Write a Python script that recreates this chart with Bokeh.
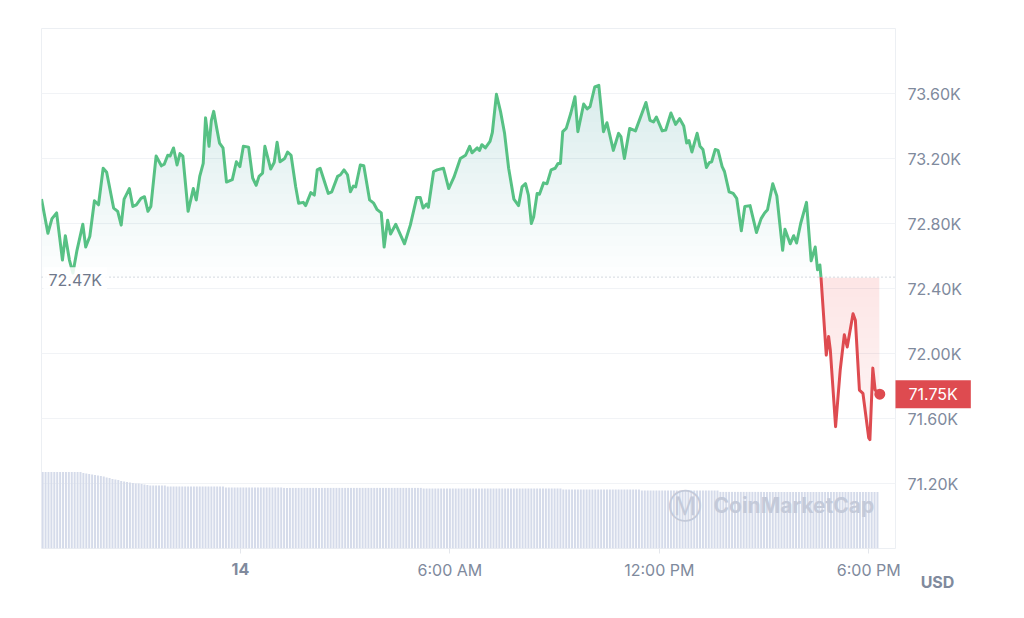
import numpy as np
import pandas as pd
from bokeh.plotting import figure
from bokeh.models import Range1d, FixedTicker, Span, Label
from bokeh.embed import file_html
from bokeh.resources import INLINE

# ---------------- data ----------------
DAY = "2024-03-14"
# minutes relative to 00:00 of DAY
minutes = [
    -342, -331, -324, -316, -306, -301, -294, -288, -281, -271, -266, -259,
    -251, -244, -236, -230, -218, -211, -205, -200, -191, -185, -179, -171,
    -165, -159, -154, -145, -136, -131, -125, -121, -115, -109, -104, -99,
    -90, -81, -76, -70, -64, -60, -54, -50, -46, -41, -36, -30,
    -24, -14, -7, -1, 5, 14, 21, 27, 32, 38, 42, 52,
    58, 63, 68, 76, 81, 87, 95, 100, 108, 112, 121, 127,
    132, 137, 151, 157, 167, 172, 178, 184, 189, 194, 198, 206,
    212, 222, 229, 235, 242, 247, 253, 258, 267, 282, 292, 303,
    309, 314, 320, 323, 332, 338, 349, 358, 367, 378, 387, 394,
    398, 407, 411, 415, 421, 429, 433, 440, 447, 454, 461, 470,
    478, 484, 490, 495, 500, 504, 510, 514, 521, 527, 534, 541,
    546, 550, 554, 560, 568, 575, 580, 590, 596, 601, 609, 616,
    624, 630, 641, 650, 654, 660, 669, 679, 697, 704, 710, 715,
    725, 731, 740, 748, 755, 762, 767, 771, 776, 785, 790, 795,
    801, 806, 810, 816, 821, 828, 832, 840, 847, 853, 861, 867,
    876, 887, 895, 901, 906, 915, 922, 932, 936, 945, 951, 956,
    963, 973, 981, 988, 992, 996, 998, 1007, 1011, 1014, 1023, 1031,
    1038, 1043, 1053, 1057, 1064, 1070, 1080, 1082, 1087, 1091, 1099,
]
prices = [
    72950, 72740, 72830, 72865, 72575, 72725, 72575, 72495, 72635, 72795, 72655, 72720,
    72940, 72915, 73140, 73115, 72895, 72875, 72790, 72950, 73015, 72905, 72915, 72955,
    72965, 72875, 72905, 73215, 73155, 73165, 73220, 73215, 73265, 73160, 73230, 73215,
    72875, 73015, 72945, 73090, 73170, 73450, 73275, 73435, 73490, 73390, 73295, 73265,
    73055, 73070, 73180, 73150, 73275, 73270, 73080, 73035, 73090, 73110, 73275, 73135,
    73175, 73300, 73180, 73200, 73240, 73220, 73025, 72925, 72930, 72910, 72990, 72975,
    73130, 73140, 72985, 72995, 73090, 73100, 73130, 73100, 72995, 73030, 73025, 73160,
    73155, 72945, 72925, 72885, 72865, 72655, 72820, 72735, 72795, 72675, 72790, 72960,
    72960, 72895, 72920, 72900, 73120, 73130, 73140, 73015, 73085, 73200, 73220, 73275,
    73235, 73265, 73250, 73285, 73265, 73305, 73360, 73595, 73490, 73355, 73140, 72950,
    72910, 73025, 73045, 72975, 72800, 72840, 72985, 72980, 73050, 73045, 73130, 73140,
    73170, 73170, 73365, 73385, 73480, 73580, 73365, 73535, 73505, 73520, 73640, 73650,
    73365, 73420, 73250, 73355, 73335, 73200, 73385, 73370, 73545, 73435, 73425, 73455,
    73370, 73375, 73480, 73410, 73445, 73400, 73295, 73310, 73240, 73355, 73275, 73255,
    73145, 73175, 73180, 73255, 73250, 73150, 73120, 72995, 72985, 72955, 72755, 72905,
    72910, 72745, 72830, 72865, 72885, 73045, 72970, 72635, 72765, 72675, 72725, 72680,
    72800, 72930, 72570, 72655, 72515, 72545, 72465, 71990, 72105, 72020, 71550, 71900,
    72115, 72040, 72245, 72205, 71775, 71755, 71480, 71470, 71910, 71775, 71750,
]
baseline_price = 72470          # reference price shown as "72.47K"
y_ticks = [71200, 71600, 72000, 72400, 72800, 73200, 73600]
y_tick_labels = ["71.20K", "71.60K", "72.00K", "72.40K", "72.80K", "73.20K", "73.60K"]
x_tick_hours = [0, 6, 12, 18]
x_tick_labels = ["14", "6:00 AM", "12:00 PM", "6:00 PM"]
currency = "USD"
watermark = "CoinMarketCap"

# rolling 24h volume (bn USD), one bar every 5 minutes starting at minute -340
volume_start_minute = -340
volume_step_minutes = 5
volume_24h_bn = [
    38.3, 38.3, 38.3, 38.3, 38.3, 38.3, 38.3, 38.3, 38.3, 38.3, 38.3, 38.3,
    38.3, 38.3, 37.8, 37.5, 37.3, 37.0, 36.8, 36.5, 36.3, 36.0, 35.5, 35.3,
    34.8, 34.5, 34.3, 33.8, 33.5, 33.3, 33.0, 32.8, 32.5, 32.5, 32.3, 32.0,
    31.8, 31.5, 31.5, 31.5, 31.5, 31.5, 31.5, 31.0, 31.0, 31.0, 31.0, 31.0,
    31.0, 31.0, 31.0, 31.0, 31.0, 31.0, 31.0, 31.0, 31.0, 31.0, 31.0, 31.0,
    31.0, 31.0, 31.0, 30.5, 30.5, 30.5, 30.5, 30.5, 30.5, 30.5, 30.5, 30.5,
    30.5, 30.5, 30.5, 30.5, 30.5, 30.5, 30.5, 30.5, 30.5, 30.5, 30.5, 30.3,
    30.3, 30.3, 30.3, 30.3, 30.3, 30.3, 30.3, 30.3, 30.3, 30.3, 30.3, 30.3,
    30.3, 30.3, 30.3, 30.3, 30.3, 30.3, 30.3, 30.3, 30.3, 30.3, 30.3, 30.3,
    30.3, 30.3, 30.3, 30.3, 30.3, 30.3, 30.3, 30.3, 30.3, 30.3, 30.3, 30.3,
    30.3, 30.3, 30.3, 30.3, 30.3, 30.3, 30.3, 30.3, 30.3, 30.3, 30.3, 30.0,
    30.0, 30.0, 30.0, 30.0, 30.0, 30.0, 30.0, 30.0, 30.0, 30.0, 30.0, 30.0,
    30.0, 30.0, 30.0, 30.0, 30.0, 30.0, 30.0, 30.0, 30.0, 30.0, 30.0, 30.0,
    30.0, 30.0, 30.0, 30.0, 30.0, 30.0, 30.0, 30.0, 30.0, 30.0, 30.0, 30.0,
    30.0, 30.0, 30.0, 30.0, 30.0, 30.0, 30.0, 30.0, 30.0, 30.0, 30.0, 29.5,
    29.5, 29.5, 29.5, 29.5, 29.5, 29.5, 29.5, 29.5, 29.5, 29.5, 29.5, 29.5,
    29.5, 29.5, 29.5, 29.5, 29.5, 29.5, 29.5, 29.5, 29.5, 29.5, 29.5, 29.5,
    29.5, 29.5, 29.0, 29.0, 29.0, 29.0, 29.0, 29.0, 29.0, 29.0, 29.0, 29.0,
    29.0, 29.0, 29.0, 29.0, 29.0, 29.0, 29.0, 29.0, 29.0, 29.0, 29.0, 29.0,
    29.0, 29.0, 29.0, 29.0, 29.0, 28.3, 28.3, 28.3, 28.3, 28.3, 28.3, 28.3,
    28.3, 28.3, 28.3, 28.3, 28.3, 28.3, 28.3, 28.3, 28.3, 28.3, 28.3, 28.3,
    28.3, 28.3, 28.3, 28.3, 28.3, 28.3, 28.3, 28.3, 28.3, 28.3, 28.3, 28.3,
    28.3, 28.3, 28.3, 28.3, 28.3, 28.3, 28.3, 28.3, 28.3, 28.3, 28.3, 28.3,
    28.3, 28.3, 28.3, 28.3, 28.3, 28.3, 28.3, 28.3, 28.3, 28.3, 28.3, 28.3,
]

# ---------------- styling ----------------
GREEN = "#57c184"
RED = "#de4b50"
TXT = "#808a9d"
VOLC = "#d5dbea"
FONT = "Inter"

MIN_MS = 60000.0
base_ms = int(pd.Timestamp(DAY).value // 10**6)


def to_ms(m):
    return base_ms + np.asarray(m, dtype=float) * MIN_MS


t = np.asarray(minutes, dtype=float)
pr = np.asarray(prices, dtype=float)

p = figure(
    width=1024, height=618,
    x_axis_type="datetime", y_axis_location="right",
    x_range=Range1d(float(to_ms(t[0])), float(to_ms(t[-1] + 27))),
    y_range=Range1d(70800, 74000),
    output_backend="svg", toolbar_location=None,
    min_border_left=41, min_border_right=129, min_border_top=28, min_border_bottom=70,
    background_fill_color="white", border_fill_color="white",
)
p.outline_line_color = "#eceff3"
p.outline_line_width = 1

# axes
xa = p.xaxis[0]
x_ticks = [int(base_ms + h * 3600000) for h in x_tick_hours]
xa.ticker = FixedTicker(ticks=x_ticks)
xa.major_label_overrides = {tk: ("" if i == 0 else lab) for i, (tk, lab) in enumerate(zip(x_ticks, x_tick_labels))}
xa.axis_line_color = None
xa.major_tick_line_color = "#e4e7ec"
xa.major_tick_out = 5
xa.major_tick_in = 0
xa.minor_tick_line_color = None
xa.major_label_text_font = FONT
xa.major_label_text_font_size = "16px"
xa.major_label_text_color = TXT
xa.major_label_standoff = 6

ya = p.yaxis[0]
ya.ticker = FixedTicker(ticks=y_ticks)
ya.major_label_overrides = {int(v): lab for v, lab in zip(y_ticks, y_tick_labels)}
ya.axis_line_color = None
ya.major_tick_line_color = None
ya.minor_tick_line_color = None
ya.major_tick_out = 0
ya.major_tick_in = 0
ya.major_label_text_font = FONT
ya.major_label_text_font_size = "16px"
ya.major_label_text_color = TXT
ya.major_label_standoff = 12

p.xgrid.visible = False
p.ygrid.grid_line_color = "#f1f3f6"
p.ygrid.grid_line_width = 1

# volume bars
p.extra_y_ranges = {"vol": Range1d(0, 260)}
vol_minutes = volume_start_minute + volume_step_minutes * np.arange(len(volume_24h_bn))
p.vbar(x=to_ms(vol_minutes), top=volume_24h_bn, width=3.4 * MIN_MS, y_range_name="vol",
       fill_color=VOLC, line_color=None)

# gradient fills (stacked translucent layers)
td = np.arange(t[0], t[-1] + 1e-9, 0.5)
pdn = np.interp(td, t, pr)
xd = to_ms(td)
y_top = 74000.0

n_g = 24
a_g = 1 - (1 - 0.27) ** (1.0 / n_g)
for k in range(n_g):
    lo = baseline_price + (y_top - baseline_price) * k / n_g
    idx = np.nonzero(pdn > lo)[0]
    if len(idx) == 0:
        continue
    i0, i1 = max(idx[0] - 1, 0), min(idx[-1] + 2, len(td))
    p.varea(x=xd[i0:i1], y1=float(lo), y2=np.maximum(pdn[i0:i1], lo),
            fill_color=GREEN, fill_alpha=a_g)

idx = np.nonzero(pdn < baseline_price)[0]
i0, i1 = max(idx[0] - 1, 0), min(idx[-1] + 2, len(td))
p.varea(x=xd[i0:i1], y1=np.minimum(pdn[i0:i1], baseline_price), y2=float(baseline_price),
        fill_color=RED, fill_alpha=0.05)
n_r = 16
a_r = 1 - ((1 - 0.10) / (1 - 0.05)) ** (1.0 / n_r)
low = float(pr.min())
for k in range(n_r):
    lo = baseline_price - (baseline_price - low) * (k + 1) / n_r
    p.varea(x=xd[i0:i1], y1=np.clip(pdn[i0:i1], lo, baseline_price), y2=float(baseline_price),
            fill_color=RED, fill_alpha=a_r)

# price line split at the reference price
lt, lp = [t[0]], [pr[0]]
for i in range(1, len(t)):
    a, b = pr[i - 1] - baseline_price, pr[i] - baseline_price
    if a * b < 0:
        f = a / (a - b)
        lt.append(t[i - 1] + f * (t[i] - t[i - 1]))
        lp.append(baseline_price)
    lt.append(t[i])
    lp.append(pr[i])
lt = np.asarray(lt)
lp = np.asarray(lp)
p.line(to_ms(lt), np.where(lp >= baseline_price, lp, np.nan), line_color=GREEN, line_width=3,
       line_join="round")
p.line(to_ms(lt), np.where(lp <= baseline_price, lp, np.nan), line_color=RED, line_width=3,
       line_join="round")
p.scatter(x=[float(to_ms(t[-1]))], y=[pr[-1]], size=11, fill_color=RED, line_color=None)

# reference line and labels
p.add_layout(Span(location=baseline_price, dimension="width", line_color="#aab1bf",
                  line_dash="1 3", line_width=1))
p.add_layout(Label(x=2, x_units="screen", y=baseline_price, y_units="data", y_offset=-3,
                   text=f"{baseline_price / 1000:.2f}K", text_align="left", text_baseline="middle",
                   text_font=FONT, text_font_size="16px", text_color="#6f788b",
                   background_fill_color="white", background_fill_alpha=0.85,
                   padding=dict(left=5, right=5, top=3, bottom=3)))

# labels outside the frame go into side panels so they are not clipped
p.add_layout(Label(x=895, x_units="canvas", y=prices[-1], y_units="data",
                   text=f"{prices[-1] / 1000:.2f}K", text_align="left", text_baseline="middle",
                   text_font=FONT, text_font_size="16px", text_color="white",
                   background_fill_color=RED, background_fill_alpha=1.0,
                   padding=dict(left=13, right=13, top=4, bottom=4)), "above")

p.add_layout(Label(x=x_ticks[0], x_units="data", y=568, y_units="canvas",
                   text=x_tick_labels[0], text_align="center", text_baseline="middle",
                   text_font=FONT, text_font_size="16px", text_font_style="bold", text_color=TXT),
             "below")
p.add_layout(Label(x=937, x_units="canvas", y=581, y_units="canvas",
                   text=currency, text_align="center", text_baseline="middle",
                   text_font=FONT, text_font_size="16px", text_font_style="bold", text_color=TXT),
             "below")

p.add_layout(Label(x=643, x_units="screen", y=43, y_units="screen",
                   text="\u24c2", text_align="center", text_baseline="middle",
                   text_font="DejaVu Sans", text_font_size="34px", text_color="#c4cad9"))
p.add_layout(Label(x=672, x_units="screen", y=43, y_units="screen",
                   text=watermark, text_align="left", text_baseline="middle",
                   text_font=FONT, text_font_size="21px", text_font_style="bold",
                   text_color="#c4cad9"))

open("out.html", "w").write(file_html(p, INLINE))
